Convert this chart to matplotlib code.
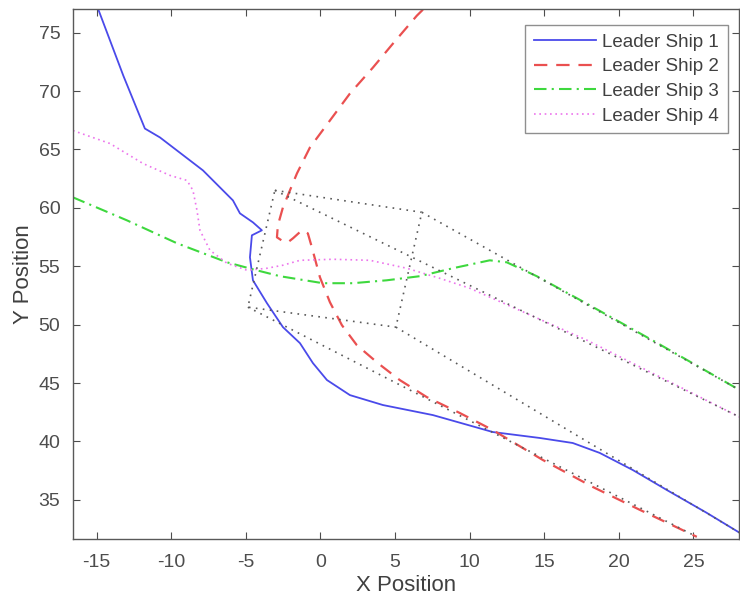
import matplotlib
matplotlib.use("Agg")
import matplotlib.pyplot as plt

plt.rcParams['font.family'] = ['Liberation Sans', 'DejaVu Sans']
plt.rcParams['axes.unicode_minus'] = False

# ---- Leader ship trajectories ----
ship1_x = [-14.90, -13.20, -11.76, -10.75, -7.87, -5.86, -5.39, -4.52, -3.92, -4.59, -4.72,
           -4.52, -3.58, -2.51, -1.37, -0.50, 0.44, 1.98, 4.19, 7.54, 11.55,
           14.70, 16.91, 18.72, 20.93, 23.21, 25.89, 28.10]
ship1_y = [77.05, 71.30, 66.79, 66.03, 63.21, 60.64, 59.53, 58.76, 58.08, 57.65, 55.77,
           53.80, 51.84, 49.79, 48.42, 46.71, 45.26, 43.97, 43.12, 42.26, 40.81,
           40.30, 39.87, 39.02, 37.56, 35.85, 33.89, 32.18]

ship2_x = [6.87, 6.46, 4.86, 3.52, 1.98, 0.64, -0.70, -1.57, -2.04, -2.51, -2.85,
           -2.91, -2.51, -2.18, -1.84, -1.24, -0.84, -0.57, -0.03, 0.64, 1.44,
           2.44, 3.85, 5.32, 7.13, 9.34, 11.55, 14.90, 18.25, 21.40, 25.22]
ship2_y = [76.97, 76.45, 74.06, 72.01, 69.79, 67.48, 65.17, 62.95, 61.50, 60.04, 58.50,
           57.48, 57.14, 57.05, 57.39, 58.08, 57.82, 56.62, 54.06, 51.92, 49.96,
           48.25, 46.71, 45.26, 43.80, 42.44, 40.98, 38.42, 36.11, 34.15, 31.84]

ship3_x = [-16.58, -12.96, -9.61, -6.26, -4.52, -2.71, 0.17, 2.18, 4.45, 6.66,
           8.87, 11.35, 12.49, 14.50, 17.85, 22.27, 28.10]
ship3_y = [60.90, 58.93, 56.97, 55.34, 54.74, 54.15, 53.55, 53.55, 53.80, 54.15,
           54.83, 55.51, 55.34, 54.15, 51.80, 48.65, 44.40]

ship4_x = [-16.58, -14.10, -11.89, -10.08, -8.94, -8.54, -8.27, -8.07, -7.40, -6.26,
           -4.92, -3.58, -2.51, -1.37, 0.84, 3.32, 5.79, 8.00, 10.01, 17.85, 28.10]
ship4_y = [66.62, 65.51, 63.80, 62.78, 62.35, 61.50, 59.79, 58.08, 56.37, 55.26,
           54.66, 54.83, 55.09, 55.51, 55.60, 55.51, 54.83, 53.97, 53.12, 48.68, 42.09]

# formation corners and where each reference track leaves the plot
corner_x = [-3.05, 6.80, -4.86, 5.06]
corner_y = [61.50, 59.62, 51.50, 49.79]
track_end_x = [28.10, 28.10, 25.22, 28.10]
track_end_y = [42.09, 44.40, 31.84, 32.18]

labels = ["Leader Ship 1", "Leader Ship 2", "Leader Ship 3", "Leader Ship 4"]
xticks = [-15, -10, -5, 0, 5, 10, 15, 20, 25]
yticks = [35, 40, 45, 50, 55, 60, 65, 70, 75]

fig = plt.figure(figsize=(7.4, 6.04), dpi=100)
ax = fig.add_axes([0.0986, 0.1076, 0.9, 0.877])

ax.plot(ship1_x, ship1_y, color='#4a4aea', lw=1.3, label=labels[0])
ax.plot(ship2_x, ship2_y, color='#ea5050', lw=1.6, linestyle=(0, (6, 4)), label=labels[1])
ax.plot(ship3_x, ship3_y, color='#3ed83e', lw=1.5, linestyle=(0, (6, 2.5, 1, 2.5)), label=labels[2])
ax.plot(ship4_x, ship4_y, color='#ec74ec', lw=1.2, linestyle=(0, (1, 2.2)), label=labels[3])

# formation box and reference tracks
order = [0, 1, 3, 2, 0]
ax.plot([corner_x[i] for i in order], [corner_y[i] for i in order],
        color='0.35', lw=1.2, linestyle=(0, (1, 3.2)))
for i in range(4):
    ax.plot([corner_x[i], track_end_x[i]], [corner_y[i], track_end_y[i]],
            color='0.35', lw=1.2, linestyle=(0, (1, 3.2)))

ax.set_xlim(-16.58, 28.05)
ax.set_ylim(31.65, 77.0)
ax.set_xticks(xticks)
ax.set_yticks(yticks)
ax.tick_params(direction='in', top=True, right=True, length=5, width=0.8,
               labelsize=14, colors='0.3')
ax.tick_params(axis='x', pad=11)
ax.tick_params(axis='y', pad=9)
for s in ax.spines.values():
    s.set_color('0.35')
    s.set_linewidth(1.0)

ax.set_xlabel("X Position", fontsize=16, color='0.25', labelpad=3)
ax.set_ylabel("Y Position", fontsize=16, color='0.25', labelpad=3)

leg = ax.legend(loc='upper right', bbox_to_anchor=(0.983, 0.97), fontsize=13.5,
                fancybox=False, edgecolor='0.45', handlelength=3.3,
                handletextpad=0.35, labelspacing=0.4, borderpad=0.45,
                borderaxespad=0.0)
leg.get_frame().set_linewidth(1.0)
for t in leg.get_texts():
    t.set_color('0.25')

fig.savefig("out.png", dpi=100)
